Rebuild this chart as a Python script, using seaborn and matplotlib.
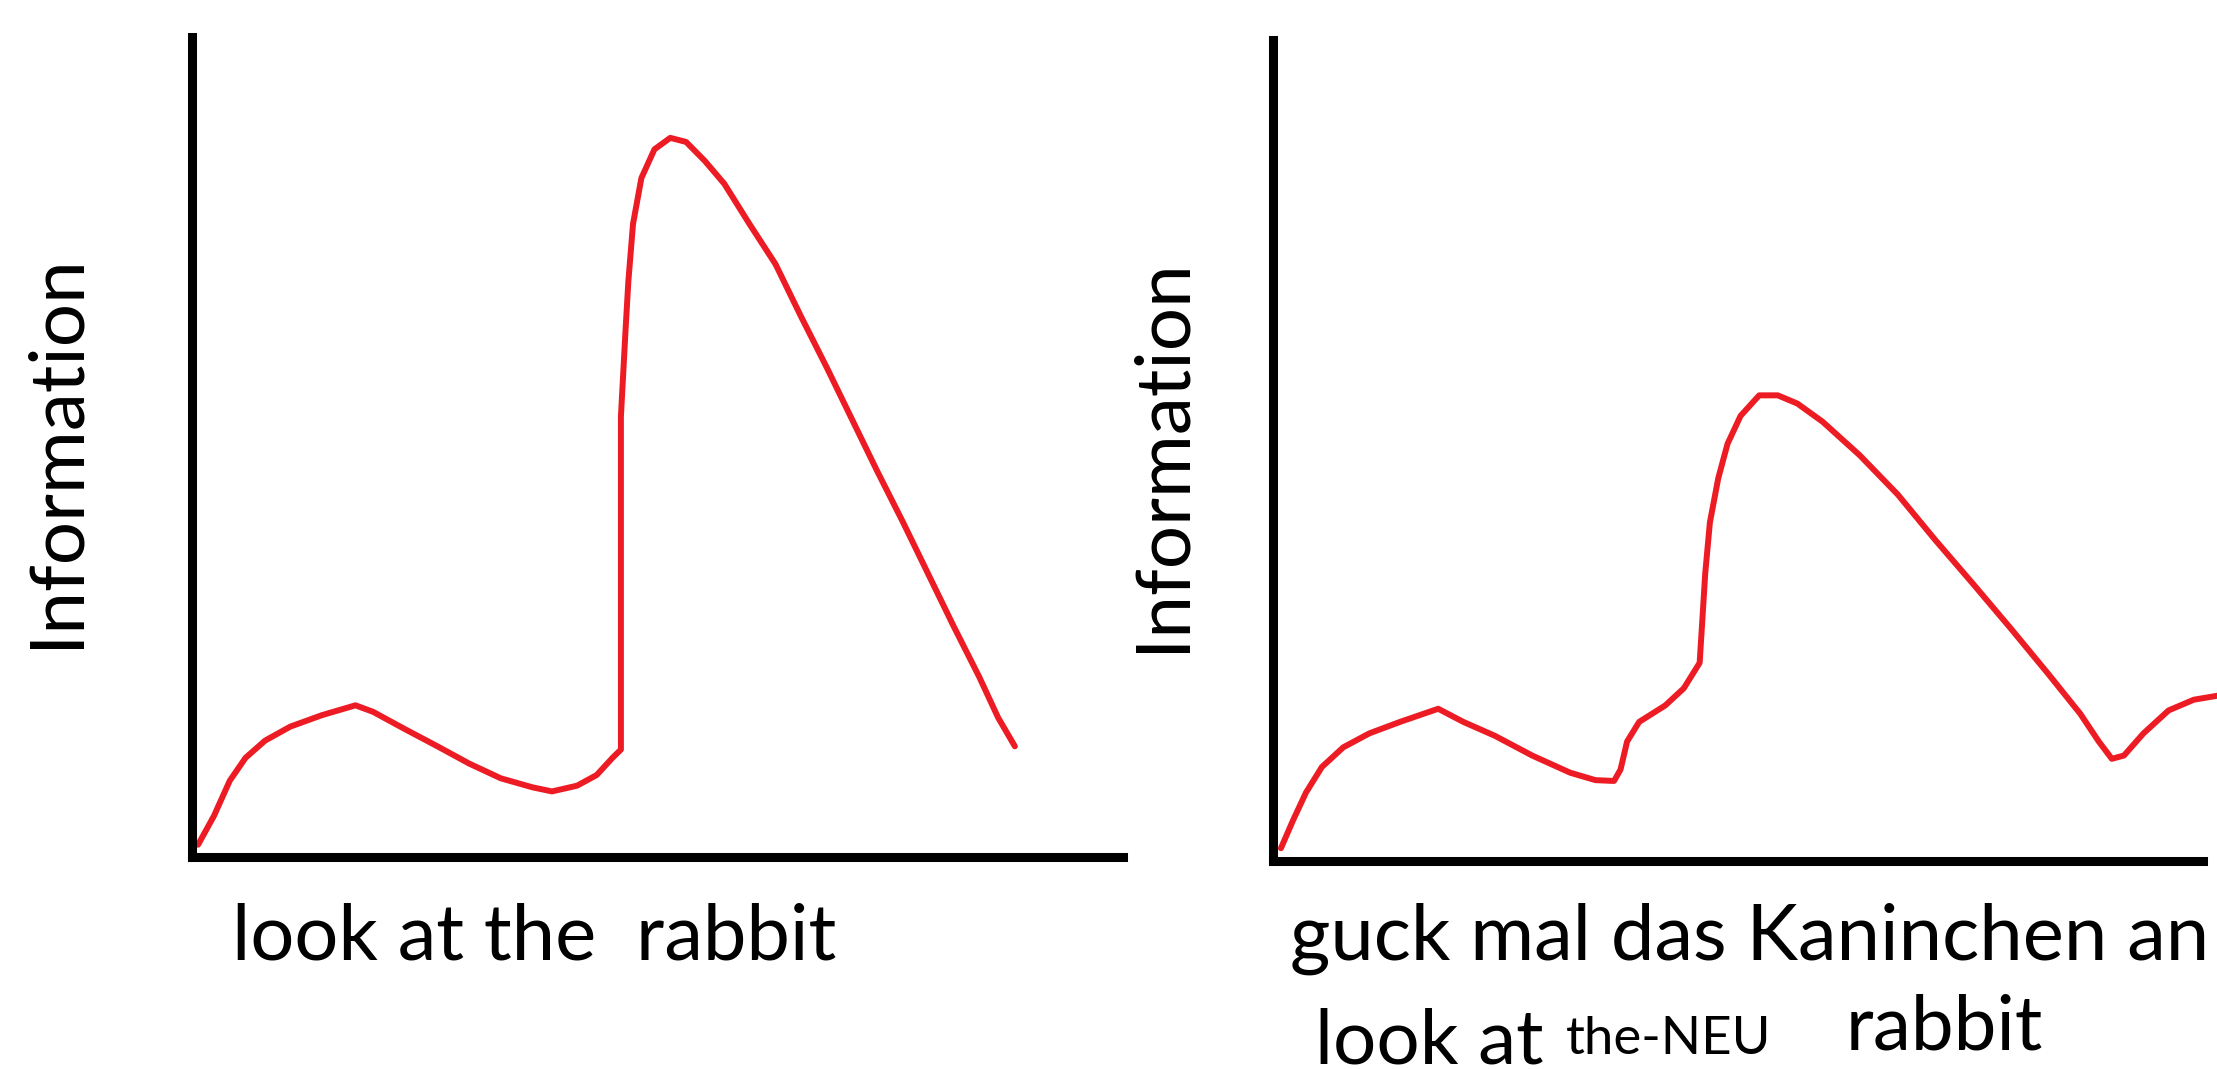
import matplotlib
matplotlib.use("Agg")
import matplotlib.pyplot as plt
import seaborn as sns

# Left panel: English sentence
en_x = [0.7, 2.4, 4.1, 5.8, 7.9, 10.6, 14.0, 17.6, 19.5, 22.9, 26.4, 29.8, 33.2,
        36.6, 38.7, 41.4, 43.5, 45.2, 46.1, 46.1, 46.6, 46.9, 47.4, 48.3, 49.7,
        51.4, 53.1, 55.1, 57.2, 59.9, 62.7, 65.4, 68.2, 70.9, 73.6, 76.4, 79.1,
        81.8, 84.6, 86.6, 88.4]
en_y = [1.5, 5.0, 9.3, 12.1, 14.2, 15.9, 17.3, 18.5, 17.7, 15.6, 13.5, 11.4, 9.6,
        8.5, 8.0, 8.7, 10.0, 12.1, 13.1, 53.7, 64.3, 70.2, 77.2, 82.8, 86.3,
        87.7, 87.2, 84.9, 82.1, 77.2, 72.3, 66.0, 59.7, 53.4, 47.1, 40.8, 34.5,
        28.2, 21.9, 17.0, 13.5]

# Right panel: German sentence
de_x = [0.9, 2.2, 3.6, 5.3, 7.6, 10.4, 13.7, 17.8, 20.5, 23.9, 27.9, 32.0, 34.7,
        36.7, 37.4, 38.1, 39.4, 42.2, 44.2, 45.9, 46.2, 46.5, 47.0, 47.9, 48.9,
        50.3, 52.3, 54.3, 56.4, 59.1, 63.1, 67.2, 71.2, 75.3, 79.4, 83.4, 86.8,
        88.8, 90.2, 91.5, 93.6, 96.3, 99.0, 101.6]
de_y = [1.5, 4.9, 8.3, 11.4, 13.8, 15.5, 16.9, 18.5, 16.9, 15.2, 12.8, 10.7, 9.8,
        9.7, 11.1, 14.5, 16.9, 18.9, 21.0, 24.1, 29.5, 35.0, 41.2, 46.6, 50.8,
        54.2, 56.7, 56.7, 55.7, 53.5, 49.4, 44.6, 39.1, 33.7, 28.2, 22.7, 17.9,
        14.5, 12.4, 12.8, 15.5, 18.3, 19.6, 20.1]

y_label = "Information"
en_text = "look at the  rabbit"
de_text = "guck mal das Kaninchen an"
gloss_parts = ["look at", "the-NEU", "rabbit"]

sns.set_theme(style="white")
plt.rcParams["font.family"] = ["Lato", "DejaVu Sans"]

red = "#ED1C24"
fig = plt.figure(figsize=(22.17, 10.69), dpi=100)
ax1 = fig.add_axes([0.0864, 0.1983, 0.4201, 0.7671])
ax2 = fig.add_axes([0.5740, 0.1950, 0.4197, 0.7675])

panels = [(ax1, en_x, en_y, -0.109), (ax2, de_x, de_y, -0.082)]
for ax, xs, ys, lab_x in panels:
    sns.lineplot(x=xs, y=ys, ax=ax, sort=False, estimator=None,
                 color=red, linewidth=4.3, clip_on=False)
    ax.set_xlim(0, 100)
    ax.set_ylim(0, 100)
    ax.set_xticks([])
    ax.set_yticks([])
    sns.despine(ax=ax)
    for side in ["left", "bottom"]:
        ax.spines[side].set_color("black")
        ax.spines[side].set_linewidth(6.5)
    ax.set_ylabel(y_label, fontsize=55, color="black")
    ax.yaxis.set_label_coords(lab_x, 0.495)

# sentences written under each panel
fig.text(232 / 2217, 1 - 959 / 1069, en_text, fontsize=56, va="baseline", color="black")
fig.text(1290 / 2217, 1 - 960 / 1069, de_text, fontsize=56, va="baseline", color="black")
fig.text(1315 / 2217, 1 - 1063 / 1069, gloss_parts[0], fontsize=55, va="baseline", color="black")
fig.text(1566 / 2217, 1 - 1054 / 1069, gloss_parts[1], fontsize=38, va="baseline", color="black")
fig.text(1846 / 2217, 1 - 1049 / 1069, gloss_parts[2], fontsize=55, va="baseline", color="black")

fig.savefig("out.png", dpi=100)
